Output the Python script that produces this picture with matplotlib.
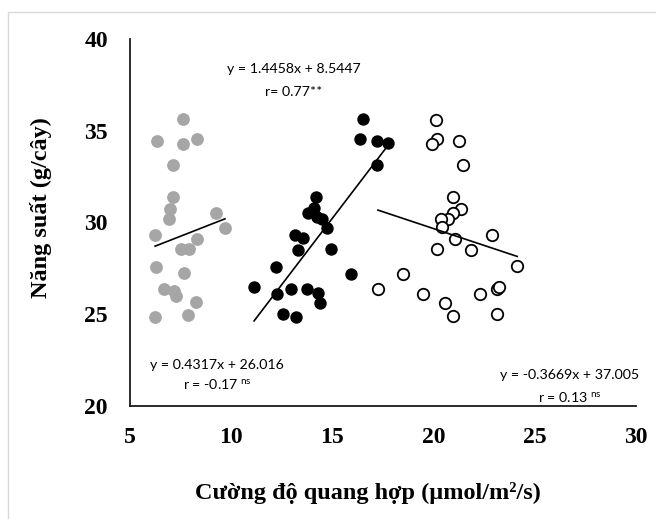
import numpy as np
import matplotlib.pyplot as plt
from matplotlib.patches import Rectangle

# gray group
x_gray = [7.63, 6.32, 7.63, 8.30, 7.11, 7.11, 6.98, 6.94, 9.25, 9.69, 6.24, 8.30,
          7.50, 7.93, 6.28, 7.67, 6.68, 7.17, 7.27, 8.26, 6.24, 7.87]
y_gray = [35.62, 34.44, 34.28, 34.55, 33.12, 31.41, 30.72, 30.17, 30.53, 29.72, 29.32, 29.10,
          28.54, 28.57, 27.59, 27.23, 26.38, 26.27, 25.99, 25.67, 24.85, 24.96]

# black group
x_black = [16.53, 16.36, 17.19, 17.76, 17.22, 14.19, 14.09, 13.81, 14.25, 14.47, 14.75, 13.15,
           13.53, 13.30, 14.93, 12.21, 15.92, 11.13, 12.25, 12.95, 13.73, 14.30, 14.39, 12.54, 13.20]
y_black = [35.62, 34.53, 34.43, 34.32, 33.12, 31.41, 30.77, 30.50, 30.28, 30.17, 29.72, 29.32,
           29.14, 28.50, 28.57, 27.59, 27.19, 26.50, 26.10, 26.39, 26.39, 26.14, 25.63, 25.00, 24.87]

# open group
x_open = [20.12, 20.18, 19.94, 21.24, 21.45, 20.96, 21.37, 20.94, 20.73, 20.37, 20.40, 21.07,
          22.89, 20.15, 21.83, 24.13, 18.47, 17.25, 19.46, 20.56, 22.29, 23.12, 23.24, 20.94, 23.14]
y_open = [35.59, 34.53, 34.28, 34.43, 33.12, 31.41, 30.72, 30.50, 30.17, 30.21, 29.74, 29.12,
          29.32, 28.57, 28.50, 27.61, 27.19, 26.38, 26.10, 25.63, 26.10, 26.39, 26.50, 24.90, 25.01]

# trendline coefficients (slope, intercept) as printed on the chart
fit_gray = (0.4317, 26.016)
fit_black = (1.4458, 8.5447)
fit_open = (-0.3669, 37.005)

plt.rcParams['mathtext.fontset'] = 'custom'
plt.rcParams['mathtext.rm'] = 'Lato'
plt.rcParams['mathtext.it'] = 'Lato:italic'
plt.rcParams['mathtext.bf'] = 'Lato:bold'

W, H = 656, 519
fig = plt.figure(figsize=(W/100, H/100), dpi=100)
ax = fig.add_axes([130/W, 1-406/H, (636-130)/W, (406-39)/H])

ax.scatter(x_gray, y_gray, s=85, color='#a6a6a6', linewidths=0, zorder=3)
ax.scatter(x_black, y_black, s=80, color='black', linewidths=0, zorder=3)
ax.scatter(x_open, y_open, s=68, facecolor='white', edgecolor='black', linewidths=1.3, zorder=3)

for xs, (m, b) in [(x_gray, fit_gray), (x_black, fit_black), (x_open, fit_open)]:
    xx = np.array([min(xs), max(xs)])
    ax.plot(xx, m*xx + b, color='black', linewidth=1.2, zorder=4)

ax.set_xlim(5, 30)
ax.set_ylim(20, 40)
ax.set_xticks([5, 10, 15, 20, 25, 30])
ax.set_yticks([20, 25, 30, 35, 40])
for s in ['top', 'right']:
    ax.spines[s].set_visible(False)
for s in ['left', 'bottom']:
    ax.spines[s].set_linewidth(1.3)
    ax.spines[s].set_color('#1a1a1a')
ax.tick_params(length=0, labelsize=17, pad=16)
ax.tick_params(axis='x', pad=15)
for lab in ax.get_xticklabels() + ax.get_yticklabels():
    lab.set_fontfamily('Liberation Serif')
    lab.set_fontweight('bold')

fig.text(41/W, 1-208/H, 'Năng suất (g/cây)', rotation=90, ha='center', va='center',
         fontsize=17.5, fontweight='bold', family='Liberation Serif')
fig.text(368/W, 1-493/H, 'Cường độ quang hợp (µmol/m²/s)', ha='center', va='center',
         fontsize=17.5, fontweight='bold', family='Liberation Serif')

def note(cx, y1, y2, line1, line2):
    fig.text(cx/W, 1-y1/H, line1, ha='center', va='baseline', fontsize=10.2, family='Lato')
    fig.text(cx/W, 1-y2/H, line2, ha='center', va='baseline', fontsize=10.2, family='Lato')

note(217, 369, 389, 'y = 0.4317x + 26.016', r'r = -0.17 $^{\mathrm{ns}}$')
note(294, 73, 96, 'y = 1.4458x + 8.5447', 'r= 0.77**')
note(570, 379, 402, 'y = -0.3669x + 37.005', r'r = 0.13 $^{\mathrm{ns}}$')

fig.patches.append(Rectangle((8/W, -0.1), 2, 1.1 - 12/H, transform=fig.transFigure,
                             fill=False, edgecolor='#d9d9d9', linewidth=1))

fig.savefig('out.png', dpi=100)
